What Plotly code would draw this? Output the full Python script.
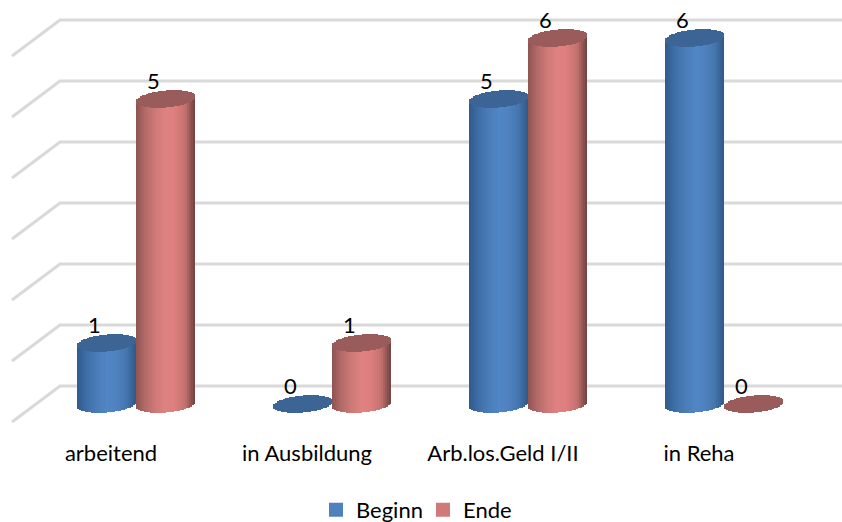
import math
import plotly.graph_objects as go

categories = ["arbeitend", "in Ausbildung", "Arb.los.Geld I/II", "in Reha"]
beginn = [1, 0, 5, 6]
ende = [5, 1, 6, 0]
value_ticks = [0, 1, 2, 3, 4, 5, 6]

# styling
blue_side = ["#2f5a8c", "#3f6fa8", "#4a7cb8", "#5086c6", "#4f82c0", "#4577b0", "#2f5887"]
red_side = ["#8d5452", "#b56c6a", "#cf7a78", "#e08282", "#dc7f7e", "#c27270", "#6e4240"]
blue_top = "#3c6595"
red_top = "#9a5b5b"
blue_swatch = "#4f81bd"
red_swatch = "#cf7a78"
grid_color = "#d9d9d9"
FONT = "Lato"

W, H = 842, 522
STEP_X, STEP_Y = 196.0, 61.0
X0_PX, Y0_PX = 136.0, 404.0
PLOT_BOTTOM = 430
BAR_W = 59.0 / STEP_X
RY = 8.5 / STEP_Y
TILT = 2.5 / STEP_Y
N = 30

positions = list(range(len(categories)))
x_range = [(0 - X0_PX) / STEP_X, (W - X0_PX) / STEP_X]
y_range = [(Y0_PX - PLOT_BOTTOM) / STEP_Y, Y0_PX / STEP_Y]


def hex_rgb(c):
    return [int(c[i:i + 2], 16) for i in (1, 3, 5)]


def ramp(stops, f):
    p = f * (len(stops) - 1)
    i = min(int(p), len(stops) - 2)
    a, b = hex_rgb(stops[i]), hex_rgb(stops[i + 1])
    u = p - i
    return "rgb(%d,%d,%d)" % tuple(round(a[k] + (b[k] - a[k]) * u) for k in range(3))


fig = go.Figure()

series = [
    ("Beginn", beginn, -BAR_W, blue_side, blue_top, blue_swatch),
    ("Ende", ende, 0.0, red_side, red_top, red_swatch),
]

# named series (legend entries), hidden behind the cylinder strips
for name, vals, off, side, top, swatch in series:
    fig.add_trace(go.Bar(
        x=positions, y=vals, name=name, width=BAR_W / 4, offset=off + BAR_W * 3 / 8,
        marker=dict(color=swatch, line=dict(color=swatch, width=2)),
        hoverinfo="skip", showlegend=True,
    ))

# cylinders built from narrow strips
strip = BAR_W / N
for name, vals, off, side, top, swatch in series:
    for i in range(N):
        f = (i + 0.5) / N
        t = 2 * f - 1
        h = RY * math.sqrt(max(0, 1 - t * t))
        c = TILT * t
        fig.add_trace(go.Bar(
            x=positions,
            y=[(v + h) if v > 0 else None for v in vals],
            base=[c - h for v in vals],
            width=strip * 1.25, offset=off + i * strip,
            marker=dict(color=ramp(side, f), line=dict(width=0)),
            hoverinfo="skip", showlegend=False,
        ))
    for i in range(N):
        f = (i + 0.5) / N
        t = 2 * f - 1
        h = RY * math.sqrt(max(0, 1 - t * t))
        c = TILT * t
        fig.add_trace(go.Bar(
            x=positions,
            y=[2 * h for v in vals],
            base=[v + c - h for v in vals],
            width=strip * 1.25, offset=off + i * strip,
            marker=dict(color=top, line=dict(width=0)),
            hoverinfo="skip", showlegend=False,
        ))

# data labels
LABEL_DX = -12.0 / STEP_X
LABEL_DY = 15.5 / STEP_Y
for name, vals, off, side, top, swatch in series:
    fig.add_trace(go.Scatter(
        x=[p + off + BAR_W / 2 + LABEL_DX for p in positions],
        y=[v + LABEL_DY for v in vals],
        mode="text", text=[str(v) for v in vals], textposition="middle center",
        textfont=dict(family=FONT, size=22, color="#000000"),
        hoverinfo="skip", showlegend=False,
    ))

# back wall + side wall grid
xa, xb = (12 - X0_PX) / STEP_X, (60 - X0_PX) / STEP_X
front, back = -18.0 / STEP_Y, 18.0 / STEP_Y
shapes = []
for v in value_ticks:
    shapes.append(dict(
        type="path", xref="x", yref="y", layer="below",
        path=f"M {xa},{v + front} L {xb},{v + back} L {x_range[1]},{v + back}",
        line=dict(color=grid_color, width=3), fillcolor="rgba(0,0,0,0)",
    ))

LABEL_SHIFT = -25.0 / STEP_X
fig.update_layout(
    width=W, height=H, margin=dict(l=0, r=0, t=0, b=H - PLOT_BOTTOM, autoexpand=False),
    paper_bgcolor="white", plot_bgcolor="white",
    barmode="overlay", bargap=0, shapes=shapes,
    font=dict(family=FONT, size=22, color="#000000"),
    xaxis=dict(range=x_range, tickmode="array",
               tickvals=[p + LABEL_SHIFT for p in positions], ticktext=categories,
               showgrid=False, zeroline=False, showline=False, ticks="",
               ticklabelstandoff=8, tickfont=dict(family=FONT, size=22, color="#000000")),
    yaxis=dict(range=y_range, visible=False),
    legend=dict(orientation="h", x=316 / W, xanchor="left",
                y=(PLOT_BOTTOM - 510) / PLOT_BOTTOM, yanchor="middle",
                font=dict(family=FONT, size=22), entrywidth=62,
                bgcolor="rgba(0,0,0,0)", traceorder="normal"),
)

fig.write_html("out.html", config=dict(displayModeBar=False),
               post_script="document.body.style.margin='0';")
